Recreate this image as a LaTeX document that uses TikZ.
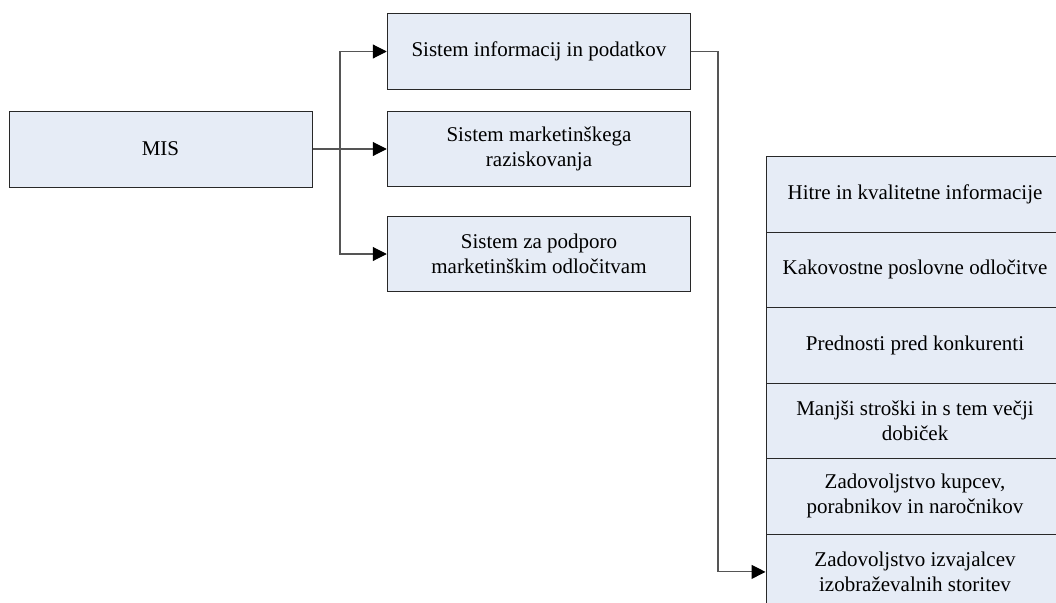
\documentclass[tikz,border=0pt]{standalone}
\usepackage{fontspec}
\setmainfont{Liberation Serif}
\usetikzlibrary{arrows.meta}
\definecolor{boxfill}{RGB}{230,236,246}
\definecolor{linec}{RGB}{40,40,40}
\definecolor{connc}{RGB}{85,85,85}
\tikzset{
  box/.style={draw=linec, line width=1pt, fill=boxfill, inner sep=0pt, align=center,
    font=\fontsize{21}{25}\selectfont, text=black},
  conn/.style={draw=connc, line width=1.1pt},
  arr/.style={conn, -{Triangle[length=14pt,width=14pt,color=black]}}
}
\begin{document}
\begin{tikzpicture}[x=1pt,y=-1pt]
\useasboundingbox (0,0) rectangle (1056,602);
\clip (0,0) rectangle (1056,602);
\fill[white] (0,0) rectangle (1056,602);
\node[box, minimum width=303pt, minimum height=76pt] (mis) at (160.5,149) {MIS};
\node[box, minimum width=303.5pt, minimum height=75pt] (b1) at (539,51.5) {Sistem informacij in podatkov};
\node[box, minimum width=303.5pt, minimum height=75pt] (b2) at (539,148.5) {Sistem marketinškega\\raziskovanja};
\node[box, minimum width=303.5pt, minimum height=75pt] (b3) at (539,254) {Sistem za podporo\\marketinškim odločitvam};
\node[box, minimum width=298pt, minimum height=75.5pt] (r1) at (915,194.4) {Hitre in kvalitetne informacije};
\node[box, minimum width=298pt, minimum height=75.5pt] (r2) at (915,269.9) {Kakovostne poslovne odločitve};
\node[box, minimum width=298pt, minimum height=75.5pt] (r3) at (915,345.4) {Prednosti pred konkurenti};
\node[box, minimum width=298pt, minimum height=75.5pt] (r4) at (915,420.9) {Manjši stroški in s tem večji\\dobiček};
\node[box, minimum width=298pt, minimum height=75.5pt] (r5) at (915,496.4) {Zadovoljstvo kupcev,\\porabnikov in naročnikov};
\node[box, minimum width=298pt, minimum height=75.5pt] (r6) at (915,571.9) {Zadovoljstvo izvajalcev\\izobraževalnih storitev};
\coordinate (j) at (340,149);
\coordinate (k) at (718,571.9);
\draw[arr] (mis.east) -- (b2.west |- mis.east);
\draw[arr] (j) |- (b1.west);
\draw[arr] (j) |- (b3.west);
\draw[arr] (b1.east) -| (k) -- (r6.west);
\end{tikzpicture}
\end{document}
